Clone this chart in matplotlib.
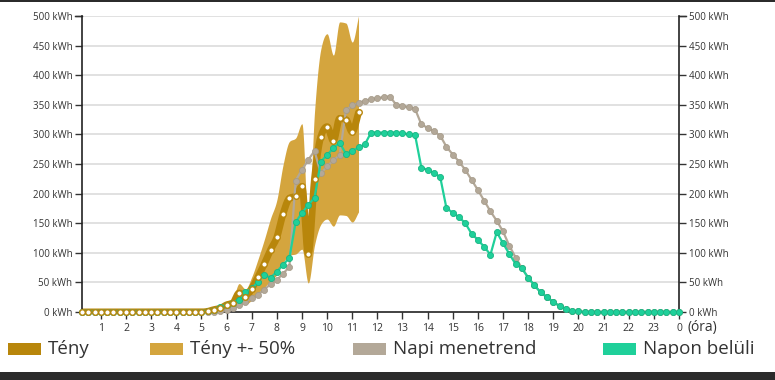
import numpy as np
import matplotlib
matplotlib.use("Agg")
import matplotlib.pyplot as plt
from matplotlib.patches import Rectangle

# ---------------- data (quarter-hour resolution, 0.25 .. 24) ----------------
hours = np.arange(1, 97) * 0.25

teny = [0] * 20 + [1, 4, 6, 12, 15, 32, 26, 39, 59, 81, 105, 126, 166, 192, 196,
                   212, 98, 225, 296, 313, 289, 327, 325, 304, 337]
teny_upper = [0] * 20 + [2, 6, 9, 18, 23, 48, 39, 59, 89, 122, 158, 189, 249, 288,
                         294, 318, 147, 338, 444, 470, 434, 490, 488, 456, 500]
teny_lower = [0] * 20 + [1, 2, 3, 6, 8, 16, 13, 20, 30, 41, 53, 63, 83, 96, 98,
                         106, 49, 113, 148, 157, 145, 164, 163, 152, 169]

napi = ([0] * 22 + [1, 3, 6, 11, 17, 23, 29, 38, 47, 54, 65, 76, 222, 240, 257, 272,
                    234, 246, 256, 265, 341, 349, 353, 357, 359, 361, 363, 364, 350,
                    348, 346, 343, 317, 311, 305, 298, 279, 266, 254, 240, 223, 206,
                    188, 170, 154, 136, 112, 92, 74, 58, 45, 33, 25, 17, 10, 5, 2, 1]
        + [0] * 16)

napon = ([0] * 20 + [2, 4, 8, 12, 16, 21, 33, 40, 51, 63, 58, 68, 80, 91, 152, 167,
                     181, 193, 254, 265, 277, 286, 267, 272, 278, 283, 303, 303, 303,
                     303, 303, 302, 300, 299, 244, 240, 235, 228, 175, 168, 160, 150,
                     132, 122, 110, 97, 135, 116, 98, 81, 74, 58, 45, 33, 25, 17, 10,
                     5, 2, 1]
         + [0] * 16)

y_ticks = [0, 50, 100, 150, 200, 250, 300, 350, 400, 450, 500]
x_ticks = list(range(1, 25))
x_tick_labels = [str(h % 24) for h in x_ticks]
legend_labels = ["Tény", "Tény +- 50%", "Napi menetrend", "Napon belüli"]

# ---------------- styles ----------------
C_TENY = "#b8860b"
C_BAND = "#d4a53e"
C_NAPI = "#b3a898"
C_NAPON = "#1fd09a"
C_NAPON_EDGE = "#19b482"


def monotone(x, y, n=24):
    x = np.asarray(x, float)
    y = np.asarray(y, float)
    h = np.diff(x)
    d = np.diff(y) / h
    m = np.zeros_like(y)
    for i in range(1, len(y) - 1):
        p = (d[i - 1] * h[i] + d[i] * h[i - 1]) / (h[i - 1] + h[i])
        m[i] = (np.sign(d[i - 1]) + np.sign(d[i])) * min(abs(d[i - 1]), abs(d[i]), 0.5 * abs(p))
    m[0] = d[0]
    m[-1] = d[-1]
    xs, ys = [], []
    for i in range(len(x) - 1):
        t = np.linspace(0, 1, n, endpoint=False)
        h00 = 2 * t**3 - 3 * t**2 + 1
        h10 = t**3 - 2 * t**2 + t
        h01 = -2 * t**3 + 3 * t**2
        h11 = t**3 - t**2
        xs.append(x[i] + t * h[i])
        ys.append(h00 * y[i] + h10 * h[i] * m[i] + h01 * y[i + 1] + h11 * h[i] * m[i + 1])
    xs.append([x[-1]])
    ys.append([y[-1]])
    return np.concatenate(xs), np.concatenate(ys)


plt.rcParams["font.family"] = ["Open Sans", "DejaVu Sans"]

fig = plt.figure(figsize=(7.75, 3.8), dpi=100)
ax = fig.add_axes([82 / 775, 1 - 312 / 380, (679 - 82) / 775, (312 - 16) / 380])

ax.set_xlim(0.25, 24)
ax.set_ylim(0, 500)

for v in y_ticks[1:]:
    ax.axhline(v, color="#dcdcdc", lw=1.2, zorder=0)

n_t = len(teny)
th = hours[:n_t]
bx, bu = monotone(th, teny_upper)
_, bl = monotone(th, teny_lower)
ax.fill_between(bx, bl, bu, color=C_BAND, lw=0, zorder=1)

tx, ty = monotone(th, teny)
ax.plot(tx, ty, color=C_TENY, lw=5, zorder=2, solid_capstyle="round")

ax.plot(hours, napi, color=C_NAPI, lw=1.6, marker="o", ms=4.4,
        mfc=C_NAPI, mec="#a39886", mew=0.5, zorder=3, clip_on=False)
ax.plot(hours, napon, color=C_NAPON, lw=1.6, marker="o", ms=4.4,
        mfc=C_NAPON, mec=C_NAPON_EDGE, mew=0.6, zorder=4, clip_on=False)
ax.plot(th, teny, lw=0, marker="o", ms=4.0, mfc="white", mec=C_TENY,
        mew=1.0, zorder=5, clip_on=False)

# axes / ticks
ax.spines["top"].set_visible(False)
for s in ["left", "right", "bottom"]:
    ax.spines[s].set_color("#222222")
    ax.spines[s].set_linewidth(1.2)

ax.set_yticks(y_ticks)
ax.set_yticklabels([f"{v} kWh" for v in y_ticks])
ax.tick_params(axis="y", which="both", left=True, right=True, labelleft=True,
               labelright=True, length=5, width=1, color="#333333",
               labelsize=7, labelcolor="#333333", pad=2)
ax.set_xticks(x_ticks)
ax.set_xticklabels(x_tick_labels)
ax.tick_params(axis="x", length=5, width=1, color="#333333", labelsize=7.5,
               labelcolor="#333333", pad=3)

# outer domain tick at the top of both y axes
ax.plot([-0.012, 0], [1.0, 1.0], transform=ax.transAxes, color="#333333",
        lw=1, clip_on=False)
ax.plot([1.0, 1.012], [1.0, 1.0], transform=ax.transAxes, color="#333333",
        lw=1, clip_on=False)

fig.text(687 / 775, 1 - 327 / 380, "(óra)", fontsize=10, color="#333333",
         va="center", ha="left")

# legend
leg_items = [(8, C_TENY), (150, C_BAND), (353, C_NAPI), (603, C_NAPON)]
for (x0, col), lab in zip(leg_items, legend_labels):
    fig.add_artist(Rectangle((x0 / 775, 1 - 355 / 380), 33 / 775, 12 / 380,
                             transform=fig.transFigure, color=col, lw=0))
    fig.text((x0 + 40) / 775, 1 - 349 / 380, lab, fontsize=13.5, color="#333333",
             va="center", ha="left")

# dark frame strips
fig.add_artist(Rectangle((0, 0), 1, 8 / 380, transform=fig.transFigure,
                         color="#2b2b2b", lw=0))
fig.add_artist(Rectangle((0, 1 - 2 / 380), 1, 2 / 380, transform=fig.transFigure,
                         color="#2b2b2b", lw=0))

fig.savefig("out.png", dpi=100)
